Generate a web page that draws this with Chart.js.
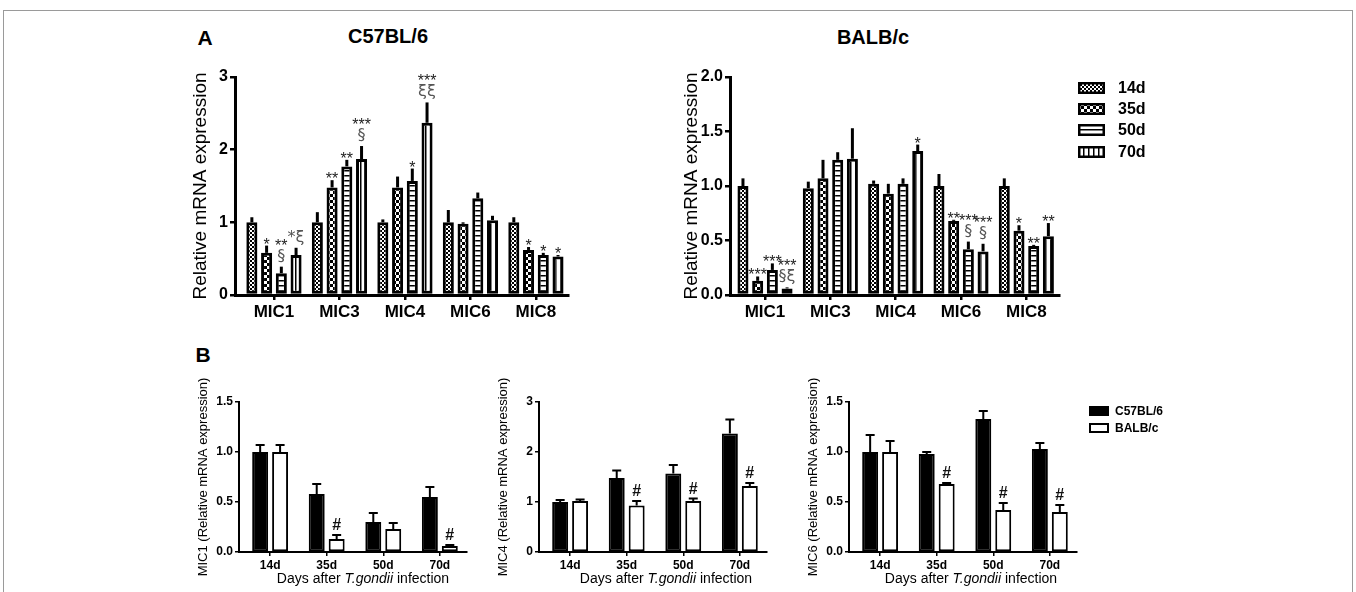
<!DOCTYPE html>
<html>
<head>
<meta charset="utf-8">
<script src="https://cdn.jsdelivr.net/npm/chart.js@4.4.1/dist/chart.umd.min.js"></script>
<style>
body{margin:0;background:#fff;font-family:"Liberation Sans",Arial,sans-serif;}
#fig{position:relative;width:1356px;height:592px;overflow:hidden;background:#fff;}
.frame{position:absolute;left:3px;top:10px;width:1348px;height:640px;border:1.5px solid #9a9a9a;}
.c{position:absolute;}
.t{position:absolute;white-space:nowrap;color:#000;transform:translate(-50%,-50%);}
.lg{position:absolute;white-space:nowrap;color:#000;font-weight:bold;transform:translateY(-50%);}
.sw{position:absolute;}
</style>
</head>
<body>
<div id="fig">
  <div class="frame"></div>

  <div class="t" style="left:205px;top:38px;font-size:21px;font-weight:bold;">A</div>
  <div class="t" style="left:388px;top:36px;font-size:20px;font-weight:bold;">C57BL/6</div>
  <div class="t" style="left:873px;top:37px;font-size:20px;font-weight:bold;">BALB/c</div>
  <div class="t" style="left:203px;top:355px;font-size:21px;font-weight:bold;">B</div>

  <canvas class="c" id="cC57" width="440" height="310" style="left:150px;top:20px;"></canvas>
  <canvas class="c" id="cBALB" width="440" height="310" style="left:640px;top:20px;"></canvas>
  <div id="legendA"></div>

  <canvas class="c" id="cMIC1" width="320" height="240" style="left:160px;top:350px;"></canvas>
  <canvas class="c" id="cMIC4" width="320" height="240" style="left:460px;top:350px;"></canvas>
  <canvas class="c" id="cMIC6" width="320" height="240" style="left:770px;top:350px;"></canvas>
  <div class="t" style="left:363px;top:578px;font-size:14px;">Days after <i>T.gondii</i> infection</div>
  <div class="t" style="left:666px;top:578px;font-size:14px;">Days after <i>T.gondii</i> infection</div>
  <div class="t" style="left:971px;top:578px;font-size:14px;">Days after <i>T.gondii</i> infection</div>
  <div id="legendB"></div>
</div>

<script>
// ===============================
// DATA
// ===============================

const micGenes = ["MIC1", "MIC3", "MIC4", "MIC6", "MIC8"];
const dayLabels = ["14d", "35d", "50d", "70d"];
const strainLabels = ["C57BL/6", "BALB/c"];

const c57Ticks = [0, 1, 2, 3];
const balbTicks = [0, 0.5, 1, 1.5, 2];
const lowTicks = [0, 0.5, 1, 1.5];

// C57BL/6, mean and top of error bar, per time point (MIC1, MIC3, MIC4, MIC6, MIC8)
const c57Mean14 = [1.00, 1.00, 1.00, 1.00, 1.00];
const c57Top14  = [1.07, 1.14, 1.04, 1.17, 1.07];
const c57Mean35 = [0.58, 1.48, 1.48, 0.98, 0.62];
const c57Top35  = [0.68, 1.58, 1.63, 1.00, 0.66];
const c57Mean50 = [0.30, 1.77, 1.57, 1.33, 0.55];
const c57Top50  = [0.39, 1.86, 1.74, 1.41, 0.58];
const c57Mean70 = [0.55, 1.87, 2.37, 1.03, 0.53];
const c57Top70  = [0.65, 2.05, 2.65, 1.09, 0.55];

// BALB/c
const balbMean14 = [1.00, 0.98, 1.02, 1.00, 1.00];
const balbTop14  = [1.07, 1.04, 1.05, 1.11, 1.07];
const balbMean35 = [0.13, 1.07, 0.93, 0.68, 0.59];
const balbTop35  = [0.17, 1.24, 1.02, 0.69, 0.64];
const balbMean50 = [0.23, 1.24, 1.02, 0.42, 0.45];
const balbTop50  = [0.29, 1.31, 1.07, 0.49, 0.46];
const balbMean70 = [0.06, 1.25, 1.32, 0.40, 0.54];
const balbTop70  = [0.07, 1.53, 1.38, 0.47, 0.66];

// significance marks (lines from top to bottom)
const c57Mark14 = [[], [], [], [], []];
const c57Mark35 = [["*"], ["**"], [], [], ["*"]];
const c57Mark50 = [["**", "§"], ["**"], ["*"], [], ["*"]];
const c57Mark70 = [["*ξ"], ["***", "§"], ["***", "ξξ"], [], ["*"]];

const balbMark14 = [[], [], [], [], []];
const balbMark35 = [["***"], [], [], ["**"], ["*"]];
const balbMark50 = [["***"], [], [], ["***", "§"], ["**"]];
const balbMark70 = [["***", "§ξ"], [], ["*"], ["***", "§"], ["**"]];

// panel B: C57BL/6 vs BALB/c per gene
const hashMIC1 = [[], ["#"], [], ["#"]];
const hashMIC4 = [[], ["#"], ["#"], ["#"]];
const hashMIC6 = [[], ["#"], ["#"], ["#"]];

// ===============================
// PATTERNS
// ===============================

function makePattern(kind){
    const c = document.createElement("canvas");
    const g = c.getContext("2d");
    if(kind === "fine"){
        c.width = 4; c.height = 4;
        g.fillStyle = "#fff"; g.fillRect(0,0,4,4);
        g.fillStyle = "#000"; g.fillRect(0,0,2,2); g.fillRect(2,2,2,2);
    }
    else if(kind === "coarse"){
        c.width = 6; c.height = 6;
        g.fillStyle = "#fff"; g.fillRect(0,0,6,6);
        g.fillStyle = "#000"; g.fillRect(0,0,3,3); g.fillRect(3,3,3,3);
    }
    else if(kind === "hlines"){
        c.width = 5; c.height = 5;
        g.fillStyle = "#fff"; g.fillRect(0,0,5,5);
        g.fillStyle = "#000"; g.fillRect(0,0,5,1.5);
    }
    else{
        c.width = 5; c.height = 5;
        g.fillStyle = "#fff"; g.fillRect(0,0,5,5);
        g.fillStyle = "#000"; g.fillRect(0,0,1.5,5);
    }
    return g.createPattern(c, "repeat");
}

const dayFills = [makePattern("fine"), makePattern("coarse"), makePattern("hlines"), makePattern("vlines")];

// ===============================
// ERROR BARS + MARKS PLUGIN
// ===============================

const errorBars = {
    id: "errorBars",
    afterDatasetsDraw(chart, args, opts){
        const ctx = chart.ctx;
        const yScale = chart.scales.y;
        chart.data.datasets.forEach((ds, d) => {
            chart.getDatasetMeta(d).data.forEach((bar, i) => {
                const top = yScale.getPixelForValue(ds.errTop[i]);
                ctx.save();
                ctx.strokeStyle = "#000";
                ctx.lineWidth = opts.width;
                ctx.beginPath();
                ctx.moveTo(bar.x, bar.y);
                ctx.lineTo(bar.x, top);
                if(opts.cap){
                    ctx.moveTo(bar.x - opts.cap / 2, top);
                    ctx.lineTo(bar.x + opts.cap / 2, top);
                }
                ctx.stroke();

                const lines = ds.marks[i] || [];
                ctx.textAlign = "center";
                ctx.textBaseline = "alphabetic";
                let base = null;
                for(let k = lines.length - 1; k >= 0; k--){
                    const s = lines[k];
                    const star = /^\*+$/.test(s);
                    if(base === null){
                        base = star ? top + opts.starOff : top - opts.symOff;
                    }
                    ctx.font = star ? opts.starFont : opts.symFont;
                    ctx.fillStyle = star ? opts.starColor : opts.symColor;
                    ctx.fillText(s, bar.x, base);
                    base -= opts.lineGap;
                }
                ctx.restore();
            });
        });
    }
};

Chart.defaults.font.family = '"Liberation Sans", Arial, sans-serif';
Chart.defaults.color = "#000";

// ===============================
// PANEL A
// ===============================

function panelA(id, means, tops, marks, ticks, decimals, yWidth, pad, xMin, xMax){
    const datasets = dayLabels.map((day, d) => ({
        label: day,
        data: means[d].map((v, i) => ({x: i, y: v})),
        errTop: tops[d],
        marks: marks[d],
        backgroundColor: dayFills[d],
        borderColor: "#000",
        borderWidth: 3,
        borderSkipped: false,
        categoryPercentage: 0.9,
        barPercentage: 0.75
    }));

    return new Chart(document.getElementById(id), {
        type: "bar",
        data: { datasets: datasets },
        options: {
            responsive: false,
            animation: false,
            layout: { padding: pad },
            plugins: {
                legend: { display: false },
                tooltip: { enabled: false },
                errorBars: {
                    width: 3, cap: 0,
                    starFont: "16px 'Liberation Sans', Arial", starColor: "#222",
                    symFont: "16px 'DejaVu Sans', Arial", symColor: "#555",
                    starOff: 4, symOff: 6, lineGap: 10
                }
            },
            scales: {
                x: {
                    type: "linear",
                    min: xMin, max: xMax,
                    offset: false,
                    afterBuildTicks: s => { s.ticks = micGenes.map((g, i) => ({value: i})); },
                    afterFit: s => { s.height = 30; },
                    ticks: {
                        callback: v => micGenes[v],
                        font: { size: 17, weight: "bold" },
                        color: "#000",
                        padding: 2,
                        maxRotation: 0,
                        autoSkip: false
                    },
                    grid: { drawOnChartArea: false, drawTicks: true, tickLength: 5, color: "#000", lineWidth: 2.5, offset: false },
                    border: { display: true, color: "#000", width: 3 }
                },
                y: {
                    min: 0, max: ticks[ticks.length - 1],
                    afterBuildTicks: s => { s.ticks = ticks.map(v => ({value: v})); },
                    afterFit: s => { s.width = yWidth; },
                    ticks: {
                        callback: v => v.toFixed(decimals),
                        font: { size: 16, weight: "bold" },
                        color: "#000",
                        padding: 2
                    },
                    grid: { drawOnChartArea: false, drawTicks: true, tickLength: 5, color: "#000", lineWidth: 2.5 },
                    border: { display: true, color: "#000", width: 3 },
                    title: {
                        display: true,
                        text: "Relative mRNA expression",
                        font: { size: 19 },
                        color: "#000",
                        padding: { top: 6.6, bottom: 0 }
                    }
                }
            }
        },
        plugins: [errorBars]
    });
}

panelA("cC57",
    [c57Mean14, c57Mean35, c57Mean50, c57Mean70],
    [c57Top14, c57Top35, c57Top50, c57Top70],
    [c57Mark14, c57Mark35, c57Mark50, c57Mark70],
    c57Ticks, 0, 52,
    { left: 33, top: 57, right: 22, bottom: 5 },
    -0.595, 4.49);

panelA("cBALB",
    [balbMean14, balbMean35, balbMean50, balbMean70],
    [balbTop14, balbTop35, balbTop50, balbTop70],
    [balbMark14, balbMark35, balbMark50, balbMark70],
    balbTicks, 1, 56,
    { left: 34, top: 57, right: 21, bottom: 5 },
    -0.536, 4.5);

// ===============================
// PANEL B
// ===============================

function panelB(id, gene, ticks, decimals, hashes){
    const gi = micGenes.indexOf(gene);
    const pick = list => list.map(a => a[gi]);

    const c57 = pick([c57Mean14, c57Mean35, c57Mean50, c57Mean70]);
    const c57Top = pick([c57Top14, c57Top35, c57Top50, c57Top70]);
    const balb = pick([balbMean14, balbMean35, balbMean50, balbMean70]);
    const balbTop = pick([balbTop14, balbTop35, balbTop50, balbTop70]);

    return new Chart(document.getElementById(id), {
        type: "bar",
        data: {
            datasets: [
                {
                    label: strainLabels[0],
                    data: c57.map((v, i) => ({x: i, y: v})),
                    errTop: c57Top,
                    marks: [[], [], [], []],
                    backgroundColor: "#000",
                    borderColor: "#000",
                    borderWidth: 2,
                    borderSkipped: false,
                    categoryPercentage: 0.705,
                    barPercentage: 0.8
                },
                {
                    label: strainLabels[1],
                    data: balb.map((v, i) => ({x: i, y: v})),
                    errTop: balbTop,
                    marks: hashes,
                    backgroundColor: "#fff",
                    borderColor: "#000",
                    borderWidth: 2,
                    borderSkipped: false,
                    categoryPercentage: 0.705,
                    barPercentage: 0.8
                }
            ]
        },
        options: {
            responsive: false,
            animation: false,
            layout: { padding: { left: 29, top: 52, right: 13, bottom: 8 } },
            plugins: {
                legend: { display: false },
                tooltip: { enabled: false },
                errorBars: {
                    width: 2, cap: 9,
                    starFont: "bold 13px 'Liberation Sans', Arial", starColor: "#000",
                    symFont: "bold 16px 'Liberation Sans', Arial", symColor: "#111",
                    starOff: 0, symOff: 5, lineGap: 12
                }
            },
            scales: {
                x: {
                    type: "linear",
                    min: -0.55, max: 3.48,
                    offset: false,
                    afterBuildTicks: s => { s.ticks = dayLabels.map((g, i) => ({value: i})); },
                    afterFit: s => { s.height = 30; },
                    ticks: {
                        callback: v => dayLabels[v],
                        font: { size: 12, weight: "bold" },
                        color: "#000",
                        padding: 2,
                        maxRotation: 0,
                        autoSkip: false
                    },
                    grid: { drawOnChartArea: false, drawTicks: true, tickLength: 4, color: "#000", lineWidth: 1.5, offset: false },
                    border: { display: true, color: "#000", width: 2 }
                },
                y: {
                    min: 0, max: ticks[ticks.length - 1],
                    afterBuildTicks: s => { s.ticks = ticks.map(v => ({value: v})); },
                    afterFit: s => { s.width = 50; },
                    ticks: {
                        callback: v => v.toFixed(decimals),
                        font: { size: 12, weight: "bold" },
                        color: "#000",
                        padding: 2
                    },
                    grid: { drawOnChartArea: false, drawTicks: true, tickLength: 4, color: "#000", lineWidth: 1.5 },
                    border: { display: true, color: "#000", width: 2 },
                    title: {
                        display: true,
                        text: gene + " (Relative mRNA expression)",
                        font: { size: 13 },
                        color: "#000",
                        padding: { top: 6.2, bottom: 0 }
                    }
                }
            }
        },
        plugins: [errorBars]
    });
}

panelB("cMIC1", "MIC1", lowTicks, 1, hashMIC1);
panelB("cMIC4", "MIC4", c57Ticks, 0, hashMIC4);
panelB("cMIC6", "MIC6", lowTicks, 1, hashMIC6);

// ===============================
// LEGENDS
// ===============================

function addSwatch(parent, x, y, w, h, fill, border){
    const c = document.createElement("canvas");
    c.width = w; c.height = h;
    c.className = "sw";
    c.style.left = x + "px";
    c.style.top = (y - h / 2) + "px";
    const g = c.getContext("2d");
    g.fillStyle = "#000";
    g.fillRect(0, 0, w, h);
    g.fillStyle = fill;
    g.fillRect(border, border, w - 2 * border, h - 2 * border);
    parent.appendChild(c);
}

function addText(parent, x, y, text, size){
    const t = document.createElement("div");
    t.className = "lg";
    t.style.left = x + "px";
    t.style.top = y + "px";
    t.style.fontSize = size + "px";
    t.textContent = text;
    parent.appendChild(t);
}

const legendA = document.getElementById("legendA");
const legendARows = [88, 109, 130, 152];
dayLabels.forEach((day, d) => {
    addSwatch(legendA, 1078, legendARows[d], 27, 12, dayFills[d], 2.5);
    addText(legendA, 1118, legendARows[d], day, 16);
});

const legendB = document.getElementById("legendB");
const legendBRows = [411, 428];
const legendBFills = ["#000", "#fff"];
strainLabels.forEach((s, k) => {
    addSwatch(legendB, 1089, legendBRows[k], 20, 10, legendBFills[k], 2);
    addText(legendB, 1115, legendBRows[k], s, 12);
});
</script>
</body>
</html>
